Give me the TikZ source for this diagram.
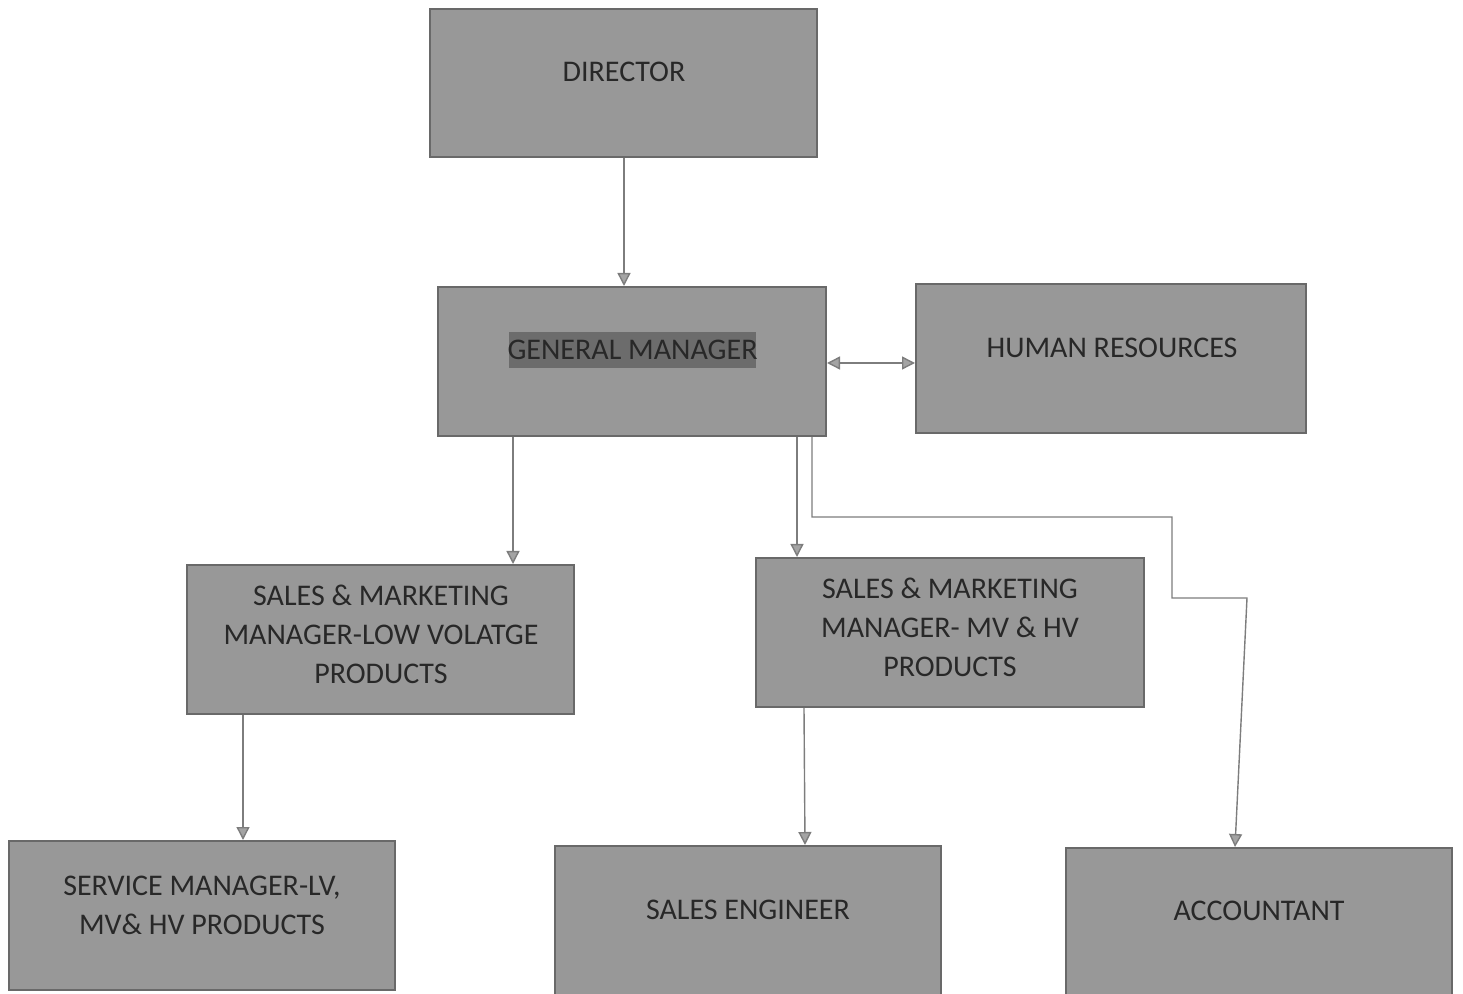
\documentclass[tikz,border=0pt]{standalone}
\usepackage{fontspec}
\setmainfont{Carlito}
\usetikzlibrary{arrows.meta}
\definecolor{boxfill}{RGB}{152,152,152}
\definecolor{boxline}{RGB}{105,105,105}
\definecolor{conn}{RGB}{125,125,125}
\definecolor{txt}{RGB}{40,40,40}
\definecolor{hilite}{RGB}{108,108,108}
\tikzset{
  orgbox/.style={draw=boxline, line width=1pt, fill=boxfill, inner sep=0pt},
  lbl/.style={text=txt, font=\fontsize{15}{19.5}\selectfont, align=center, inner sep=0pt},
  conline/.style={draw=conn, line width=0.7pt},
  arr/.style={conline, -{Triangle[length=6.5pt,width=6.5pt,fill=conn!70]}},
  darr/.style={conline, {Triangle[length=6.5pt,width=6.5pt,fill=conn!70]}-{Triangle[length=6.5pt,width=6.5pt,fill=conn!70]}}
}
\begin{document}
\begin{tikzpicture}[x=0.5pt,y=-0.5pt]
\useasboundingbox (0,0) rectangle (1463,994);
% boxes
\node[orgbox, minimum width=193.5pt, minimum height=74pt] (dir) at (623.5,83) {};
\node[orgbox, minimum width=194pt, minimum height=74.5pt] (gm) at (632,361.5) {};
\node[orgbox, minimum width=195pt, minimum height=74.5pt] (hr) at (1111,358.5) {};
\node[orgbox, minimum width=193.5pt, minimum height=74.5pt] (smlv) at (380.5,639.5) {};
\node[orgbox, minimum width=194pt, minimum height=74.5pt] (smmv) at (950,632.5) {};
\node[orgbox, minimum width=193pt, minimum height=74.5pt] (svc) at (202,915.5) {};
\node[orgbox, minimum width=193pt, minimum height=76pt] (se) at (748,922) {};
\node[orgbox, minimum width=193pt, minimum height=76pt] (acc) at (1259,924) {};
% labels
\node[lbl] (tdir) at (624,72) {DIRECTOR};
\node[fill=hilite, minimum width=123.5pt, minimum height=18pt, inner sep=0pt] (hl) at (632.5,350) {};
\node[lbl] (tgm) at (632.5,350) {GENERAL MANAGER};
\node[lbl] (thr) at (1112,348) {HUMAN RESOURCES};
\node[lbl] (tsmlv) at (381,634) {SALES \& MARKETING\\MANAGER-LOW VOLATGE\\PRODUCTS};
\node[lbl] (tsmmv) at (950,627) {SALES \& MARKETING\\MANAGER- MV \& HV\\PRODUCTS};
\node[lbl] (tsvc) at (202,905) {SERVICE MANAGER-LV,\\MV\& HV PRODUCTS};
\node[lbl] (tse) at (748,910) {SALES ENGINEER};
\node[lbl] (tacc) at (1259,911) {ACCOUNTANT};
% connectors
\draw[arr] (dir.south -| 624,0) -- (gm.north -| 624,0);
\draw[darr] (gm.east |- 0,363) -- (hr.west |- 0,363);
\draw[arr] (gm.south -| 513,0) -- (smlv.north -| 513,0);
\draw[arr] (gm.south -| 797,0) -- (smmv.north -| 797,0);
\coordinate (a1) at (812,517);
\coordinate (a2) at (1172,517);
\coordinate (a3) at (1172,598);
\coordinate (a4) at (1247,598);
\draw[arr] (gm.south -| 812,0) -- (a1) -- (a2) -- (a3) -- (a4) -- (acc.north -| 1235,0);
\draw[arr] (smlv.south -| 243,0) -- (svc.north -| 243,0);
\draw[arr] (smmv.south -| 804,0) -- (se.north -| 805,0);
\end{tikzpicture}
\end{document}
